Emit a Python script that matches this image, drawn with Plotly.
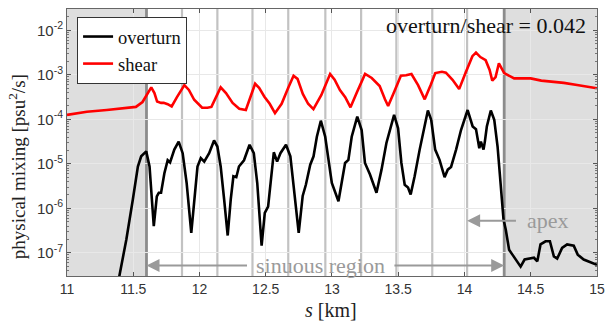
import numpy as np
import plotly.graph_objects as go

# ---------------- data ----------------
shear_s = [11.0, 11.15, 11.3, 11.45, 11.52, 11.57, 11.60, 11.636, 11.66, 11.68, 11.71, 11.73, 11.76, 11.79,
           11.83, 11.886, 11.92, 11.96, 12.02, 12.06, 12.09, 12.16, 12.20, 12.25, 12.30, 12.35, 12.42, 12.45,
           12.49, 12.53, 12.57, 12.62, 12.67, 12.71, 12.74, 12.78, 12.82, 12.86, 12.92, 12.986, 13.02, 13.06,
           13.10, 13.14, 13.19, 13.25, 13.30, 13.33, 13.36, 13.40, 13.424, 13.47, 13.52, 13.56, 13.60, 13.65,
           13.70, 13.745, 13.78, 13.83, 13.86, 13.91, 13.96, 14.01, 14.06, 14.087, 14.12, 14.16, 14.19, 14.21,
           14.235, 14.26, 14.28, 14.30, 14.375, 14.50, 14.58, 14.65, 14.75, 14.85, 14.93, 15.0]
shear_log10 = [-3.90, -3.83, -3.79, -3.75, -3.72, -3.61, -3.45, -3.28, -3.41, -3.60, -3.63, -3.63, -3.66, -3.71,
               -3.50, -3.23, -3.34, -3.56, -3.74, -3.74, -3.72, -3.28, -3.41, -3.63, -3.76, -3.79, -3.20, -3.29,
               -3.49, -3.65, -3.86, -3.65, -3.29, -3.02, -3.09, -3.43, -3.65, -3.77, -3.45, -2.98, -3.11, -3.34,
               -3.50, -3.73, -3.38, -2.98, -3.07, -3.15, -3.25, -3.55, -3.70, -3.38, -3.02, -3.01, -2.98, -3.23,
               -3.55, -3.23, -2.96, -2.93, -2.95, -3.11, -3.32, -2.94, -2.58, -2.50, -2.60, -2.67, -2.89, -3.13,
               -3.05, -2.74, -2.85, -2.96, -3.08, -3.08, -3.13, -3.15, -3.18, -3.23, -3.26, -3.30]

overturn_s = [11.39, 11.448, 11.497, 11.535, 11.56, 11.598, 11.623, 11.643, 11.655, 11.678, 11.693, 11.71,
              11.735, 11.76, 11.778, 11.81, 11.843, 11.873, 11.903, 11.938, 11.96, 11.985, 12.01, 12.036,
              12.073, 12.11, 12.135, 12.16, 12.186, 12.213, 12.236, 12.256, 12.278, 12.298, 12.336, 12.378,
              12.41, 12.436, 12.469, 12.493, 12.518, 12.536, 12.561, 12.586, 12.611, 12.653, 12.686, 12.711,
              12.749, 12.779, 12.803, 12.836, 12.861, 12.886, 12.916, 12.949, 12.979, 12.999, 13.049, 13.074,
              13.099, 13.124, 13.149, 13.191, 13.224, 13.249, 13.287, 13.336, 13.374, 13.411, 13.469, 13.499,
              13.524, 13.549, 13.574, 13.594, 13.624, 13.662, 13.724, 13.749, 13.779, 13.812, 13.85, 13.874,
              13.899, 13.937, 13.974, 14.024, 14.062, 14.087, 14.112, 14.124, 14.144, 14.154, 14.169, 14.199,
              14.225, 14.25, 14.274, 14.295, 14.312, 14.337, 14.362, 14.40, 14.424, 14.454, 14.487, 14.525,
              14.55, 14.574, 14.612, 14.645, 14.675, 14.70, 14.737, 14.775, 14.825, 14.855, 14.90, 15.0]
overturn_log10 = [-7.60, -6.70, -5.80, -5.06, -4.83, -4.72, -5.06, -5.80, -6.40, -5.73, -5.65, -5.65,
                  -5.21, -4.92, -4.97, -4.68, -4.50, -4.76, -5.43, -6.55, -5.80, -5.06, -4.87, -4.95,
                  -4.76, -4.475, -4.61, -5.06, -5.80, -6.61, -5.80, -5.28, -5.30, -5.06, -4.92, -4.57,
                  -4.76, -5.43, -6.84, -6.10, -5.96, -5.43, -4.74, -4.95, -4.76, -4.57, -4.83, -5.51,
                  -6.55, -5.72, -5.47, -5.02, -4.83, -4.39, -4.03, -4.39, -5.06, -5.43, -5.84, -5.43,
                  -4.98, -4.91, -4.39, -3.94, -4.24, -4.98, -5.24, -5.65, -5.13, -4.53, -3.90, -4.20,
                  -4.98, -5.47, -5.53, -5.69, -5.28, -4.68, -3.80, -4.01, -4.68, -4.91, -5.30, -5.13,
                  -5.07, -4.68, -4.24, -3.79, -4.16, -4.22, -4.65, -4.50, -4.68, -4.50, -4.16, -3.80,
                  -4.01, -4.61, -5.58, -6.25, -6.48, -6.93, -7.04, -7.19, -7.31, -7.15, -7.13, -7.11,
                  -7.19, -6.81, -6.74, -6.74, -7.08, -7.13, -6.89, -6.81, -6.84, -7.04, -7.15, -7.27]

region_bounds = [11.6, 14.3]
meander_lines = [11.868, 12.135, 12.40, 12.67, 12.95, 13.22, 13.486, 13.757, 14.02]
apex_s = 14.02
ratio_text = "overturn/shear = 0.042"

x_ticks = [11, 11.5, 12, 12.5, 13, 13.5, 14, 14.5, 15]
y_tick_exp = [-7, -6, -5, -4, -3, -2]
y_minor_exp = [-8, -7, -6, -5, -4, -3, -2]
minor_digits = [2, 3, 4, 5, 6, 7, 8, 9]

# ---------------- figure ----------------
serif = "Liberation Serif, Times New Roman, serif"
sans = "Liberation Sans, Arial, sans-serif"
grey_txt = "#9a9a9a"

fig = go.Figure()
fig.add_trace(go.Scatter(x=overturn_s, y=10 ** np.array(overturn_log10), mode="lines",
                         name="overturn", line=dict(color="black", width=2.6)))
fig.add_trace(go.Scatter(x=shear_s, y=10 ** np.array(shear_log10), mode="lines",
                         name="shear", line=dict(color="#ff0000", width=2.6)))

shapes = []
shapes.append(dict(type="rect", xref="x", yref="paper", x0=11, x1=region_bounds[0], y0=0, y1=1,
                   fillcolor="#dedede", line=dict(width=0), layer="below"))
shapes.append(dict(type="rect", xref="x", yref="paper", x0=region_bounds[1], x1=15, y0=0, y1=1,
                   fillcolor="#dedede", line=dict(width=0), layer="below"))
for xv in meander_lines:
    shapes.append(dict(type="line", xref="x", yref="paper", x0=xv, x1=xv, y0=0, y1=1,
                       line=dict(color="#c2c2c2", width=2.2), layer="between"))
for xv in region_bounds:
    shapes.append(dict(type="line", xref="x", yref="paper", x0=xv, x1=xv, y0=0, y1=1,
                       line=dict(color="#8c8c8c", width=2.8), layer="between"))

annotations = []
arrow_y = -7.285
annotations.append(dict(x=region_bounds[0], y=arrow_y, ax=12.37, ay=arrow_y, xref="x", yref="y",
                        axref="x", ayref="y", text="", showarrow=True, arrowhead=2, arrowsize=1.3,
                        arrowwidth=2, arrowcolor=grey_txt))
annotations.append(dict(x=region_bounds[1], y=arrow_y, ax=13.46, ay=arrow_y, xref="x", yref="y",
                        axref="x", ayref="y", text="", showarrow=True, arrowhead=2, arrowsize=1.3,
                        arrowwidth=2, arrowcolor=grey_txt))
annotations.append(dict(x=12.915, y=arrow_y, xref="x", yref="y", text="sinuous region", showarrow=False,
                        font=dict(family=serif, size=22, color=grey_txt), xanchor="center", yanchor="middle"))
apex_y = -6.276
annotations.append(dict(x=apex_s, y=apex_y, ax=14.40, ay=apex_y, xref="x", yref="y", axref="x", ayref="y",
                        text="", showarrow=True, arrowhead=2, arrowsize=1.3, arrowwidth=2,
                        arrowcolor=grey_txt))
annotations.append(dict(x=14.455, y=apex_y, xref="x", yref="y", text="apex", showarrow=False,
                        font=dict(family=serif, size=22, color=grey_txt), xanchor="left", yanchor="middle"))
annotations.append(dict(x=0.983, y=0.94, xref="paper", yref="paper", text=ratio_text, showarrow=False,
                        font=dict(family=serif, size=22, color="#111"), xanchor="right", yanchor="middle"))
annotations.append(dict(x=-0.095, y=0.41, xref="paper", yref="paper", text="physical mixing [psu<sup>2</sup>/s]",
                        showarrow=False, textangle=-90, font=dict(family=serif, size=19, color="#222"),
                        xanchor="center", yanchor="middle"))
annotations.append(dict(x=0.499, y=-0.128, xref="paper", yref="paper", text="<i>s</i> [km]",
                        showarrow=False, font=dict(family=serif, size=20, color="#222"),
                        xanchor="center", yanchor="middle"))

fig.update_layout(
    width=606, height=322,
    margin=dict(l=67, r=9, t=9, b=46),
    paper_bgcolor="white", plot_bgcolor="white",
    shapes=shapes, annotations=annotations,
    showlegend=True,
    legend=dict(x=0.019, y=0.97, xanchor="left", yanchor="top", bgcolor="white",
                bordercolor="#333", borderwidth=1, font=dict(family=serif, size=18.5, color="#111"),
                itemwidth=30, tracegroupgap=0),
    xaxis=dict(range=[11, 15.0005], tickvals=x_ticks, ticktext=[f"{v:g}" for v in x_ticks],
               ticks="inside", ticklen=4, tickcolor="#555", mirror="ticks", showline=True,
               linecolor="#666", linewidth=1, showgrid=True, gridcolor="#e8e8e8", gridwidth=1,
               zeroline=False, tickfont=dict(family=sans, size=14, color="#333"), automargin=False,
               ticklabeloverflow="allow"),
    yaxis=dict(type="log", range=[-7.52, -1.52], tickvals=[10.0 ** e for e in y_tick_exp],
               ticktext=[f"10<sup>{e}</sup>" for e in y_tick_exp],
               ticks="inside", ticklen=4, tickcolor="#555", mirror="ticks", showline=True,
               linecolor="#666", linewidth=1, showgrid=True, gridcolor="#e8e8e8", gridwidth=1,
               zeroline=False, tickfont=dict(family=sans, size=15, color="#333"), automargin=False,
               minor=dict(ticks="inside", ticklen=2, tickcolor="#777", showgrid=False,
                          tickvals=[d * 10.0 ** e for e in y_minor_exp for d in minor_digits])),
)

fig.write_html("out.html")
